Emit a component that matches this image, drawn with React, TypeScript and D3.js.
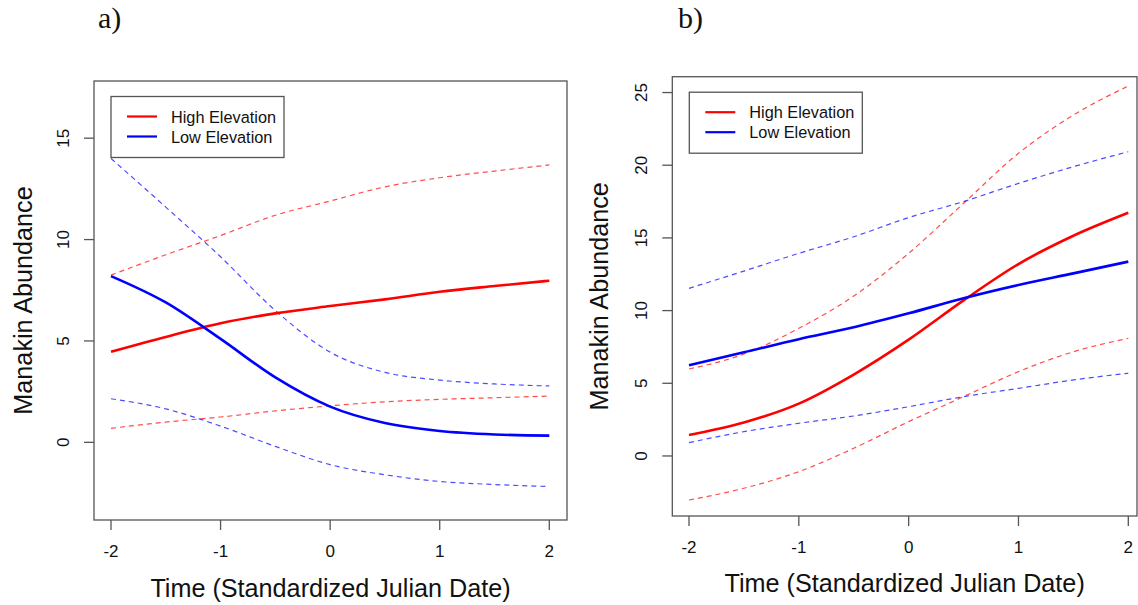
import React from 'react'
import * as d3 from 'd3'

const times = [-2, -1.5, -1, -0.5, 0, 0.5, 1, 1.5, 2]
const xTicks = [-2, -1, 0, 1, 2]

// panel a
const aHighFit = [4.47, 5.2, 5.87, 6.36, 6.72, 7.05, 7.43, 7.71, 7.97]
const aHighUpper = [8.25, 9.25, 10.2, 11.2, 11.9, 12.6, 13.05, 13.38, 13.68]
const aHighLower = [0.69, 1.0, 1.25, 1.55, 1.8, 2.0, 2.12, 2.2, 2.28]
const aLowFit = [8.2, 6.9, 5.1, 3.2, 1.76, 0.95, 0.56, 0.39, 0.33]
const aLowUpper = [14.0, 11.6, 9.15, 6.5, 4.45, 3.45, 3.07, 2.88, 2.78]
const aLowLower = [2.15, 1.65, 0.8, -0.2, -1.1, -1.6, -1.93, -2.08, -2.18]
const aYTicks = [0, 5, 10, 15]

// panel b
const bHighFit = [1.44, 2.3, 3.6, 5.6, 8.0, 10.7, 13.2, 15.15, 16.73]
const bHighUpper = [5.98, 7.01, 8.78, 11.0, 13.94, 17.38, 20.82, 23.45, 25.45]
const bHighLower = [-3.03, -2.22, -1.08, 0.53, 2.36, 4.08, 5.8, 7.17, 8.09]
const bLowFit = [6.24, 7.13, 8.03, 8.85, 9.81, 10.85, 11.76, 12.56, 13.37]
const bLowUpper = [11.53, 12.72, 13.94, 15.08, 16.4, 17.5, 18.75, 19.9, 20.93]
const bLowLower = [0.92, 1.67, 2.25, 2.75, 3.39, 4.08, 4.65, 5.23, 5.69]
const bYTicks = [0, 5, 10, 15, 20, 25]

const legendLabels = ['High Elevation', 'Low Elevation']
const RED = '#ff0000'
const BLUE = '#0000ff'
const FONT = '"Liberation Sans", Arial, sans-serif'
const AXIS = '#555'

function Panel({ tag, box, xRange, yDomain, yTicks, high, low, yTitleX, xTitleY }) {
  const x = d3.scaleLinear().domain([-2, 2]).range(xRange)
  const y = d3.scaleLinear().domain(yDomain).range([box.bottom, box.top])
  const line = d3.line().x(d => x(d[0])).y(d => y(d[1])).curve(d3.curveMonotoneX)
  const path = vals => line(times.map((t, i) => [t, vals[i]]))

  const curves = [
    { v: high.upper, c: RED, dash: true },
    { v: high.lower, c: RED, dash: true },
    { v: low.upper, c: BLUE, dash: true },
    { v: low.lower, c: BLUE, dash: true },
    { v: high.fit, c: RED, dash: false },
    { v: low.fit, c: BLUE, dash: false },
  ]

  const lg = { x: box.left + 17, y: box.top + 15.5, w: 173, h: 61 }
  const midX = (box.left + box.right) / 2
  const midY = (box.top + box.bottom) / 2

  return (
    <g fontFamily={FONT} fill="#111">
      <text x={tag.x} y={28} fontFamily='"Liberation Serif", "Times New Roman", serif' fontSize={30}>{tag.text}</text>

      {curves.map((c, i) => (
        <path key={i} d={path(c.v)} fill="none" stroke={c.c}
          strokeWidth={c.dash ? 1.2 : 2.6}
          strokeOpacity={c.dash ? 0.7 : 1}
          strokeDasharray={c.dash ? '5 4' : null} />
      ))}

      <rect x={box.left} y={box.top} width={box.right - box.left} height={box.bottom - box.top}
        fill="none" stroke={AXIS} strokeWidth={1.3} />

      {/* x axis */}
      {xTicks.map(t => (
        <g key={t}>
          <line x1={x(t)} x2={x(t)} y1={box.bottom} y2={box.bottom + 10} stroke={AXIS} strokeWidth={1.3} />
          <text x={x(t)} y={box.bottom + 31} fontSize={17} textAnchor="middle" dominantBaseline="central">{t}</text>
        </g>
      ))}
      {/* y axis */}
      {yTicks.map(t => (
        <g key={t}>
          <line x1={box.left - 10} x2={box.left} y1={y(t)} y2={y(t)} stroke={AXIS} strokeWidth={1.3} />
          <text transform={`translate(${box.left - 31},${y(t)}) rotate(-90)`} fontSize={17}
            textAnchor="middle" dominantBaseline="central">{t}</text>
        </g>
      ))}

      <text x={midX} y={xTitleY} fontSize={25.2} textAnchor="middle" dominantBaseline="central">
        Time (Standardized Julian Date)
      </text>
      <text transform={`translate(${yTitleX},${midY}) rotate(-90)`} fontSize={25.2}
        textAnchor="middle" dominantBaseline="central">Manakin Abundance</text>

      {/* legend */}
      <rect x={lg.x} y={lg.y} width={lg.w} height={lg.h} fill="white" stroke={AXIS} strokeWidth={1.3} />
      {legendLabels.map((lab, i) => (
        <g key={lab}>
          <line x1={lg.x + 16} x2={lg.x + 46} y1={lg.y + 20 + i * 20} y2={lg.y + 20 + i * 20}
            stroke={i === 0 ? RED : BLUE} strokeWidth={2.2} />
          <text x={lg.x + 60} y={lg.y + 20 + i * 20} fontSize={16.3} dominantBaseline="central">{lab}</text>
        </g>
      ))}
    </g>
  )
}

export default function App() {
  return (
    <svg width={1138} height={605} style={{ position: 'absolute', left: 0, top: 0, background: 'white' }}>
      <Panel
        tag={{ text: 'a)', x: 98 }}
        box={{ left: 94, top: 81, right: 567, bottom: 520 }}
        xRange={[111, 549.3]}
        yDomain={[-3.83, 17.82]}
        yTicks={aYTicks}
        high={{ fit: aHighFit, upper: aHighUpper, lower: aHighLower }}
        low={{ fit: aLowFit, upper: aLowUpper, lower: aLowLower }}
        yTitleX={23}
        xTitleY={588}
      />
      <Panel
        tag={{ text: 'b)', x: 678 }}
        box={{ left: 672.3, top: 76.7, right: 1137, bottom: 516 }}
        xRange={[689, 1128.3]}
        yDomain={[-4.13, 26.09]}
        yTicks={bYTicks}
        high={{ fit: bHighFit, upper: bHighUpper, lower: bHighLower }}
        low={{ fit: bLowFit, upper: bLowUpper, lower: bLowLower }}
        yTitleX={599}
        xTitleY={583}
      />
    </svg>
  )
}
